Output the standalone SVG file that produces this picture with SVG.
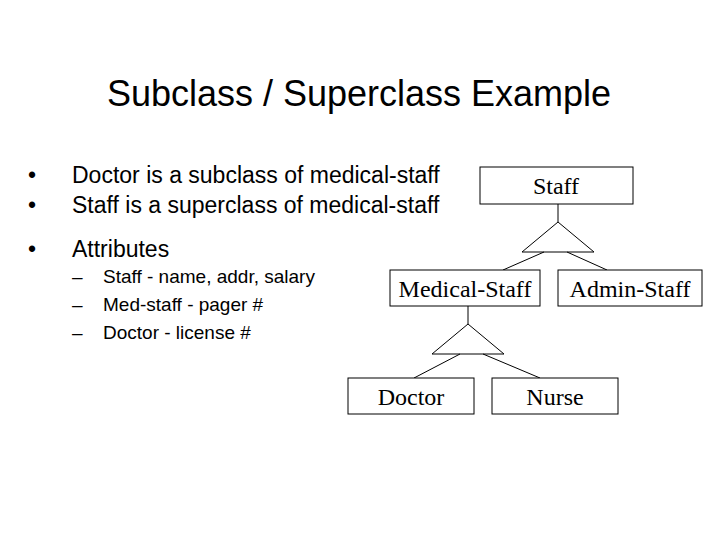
<svg xmlns="http://www.w3.org/2000/svg" width="720" height="540" viewBox="0 0 720 540">
<style>
.s{font-family:"Liberation Sans",Arial,sans-serif;fill:#000}
.t{font-family:"Liberation Serif","Times New Roman",serif;font-size:24px;text-anchor:middle;fill:#000}
.b{fill:#fff;stroke:#000;stroke-width:1}
.c{fill:none;stroke:#000;stroke-width:1}
</style>
<rect width="720" height="540" fill="#fff"/>
<text class="s" x="359" y="106" font-size="36" text-anchor="middle">Subclass / Superclass Example</text>
<g class="s" font-size="23">
<text x="28" y="183">•</text><text x="72" y="183">Doctor is a subclass of medical-staff</text>
<text x="28" y="213">•</text><text x="72" y="213">Staff is a superclass of medical-staff</text>
<text x="28" y="257">•</text><text x="72" y="257">Attributes</text>
</g>
<g class="s" font-size="19">
<text x="72" y="283">–</text><text x="103" y="283">Staff - name, addr, salary</text>
<text x="72" y="311">–</text><text x="103" y="311">Med-staff - pager #</text>
<text x="72" y="339">–</text><text x="103" y="339">Doctor - license #</text>
</g>
<g id="connectors">
<path class="c" d="M558 204V222M558 222L522 252H594Z M544 252L503 270M567 252L607 270"/>
<path class="c" d="M468 306V324M468 324L432 354H504Z M460 354L414 378M483 354L540 378"/>
</g>
<g id="staff"><rect class="b" x="480" y="167" width="153" height="37"/><text class="t" x="556" y="194">Staff</text></g>
<g id="medical-staff"><rect class="b" x="390" y="270" width="150" height="36"/><text class="t" x="465" y="297">Medical-Staff</text></g>
<g id="admin-staff"><rect class="b" x="558" y="270" width="144" height="36"/><text class="t" x="630" y="297">Admin-Staff</text></g>
<g id="doctor"><rect class="b" x="348" y="378" width="126" height="36"/><text class="t" x="411" y="405">Doctor</text></g>
<g id="nurse"><rect class="b" x="492" y="378" width="126" height="36"/><text class="t" x="555" y="405">Nurse</text></g>
</svg>
